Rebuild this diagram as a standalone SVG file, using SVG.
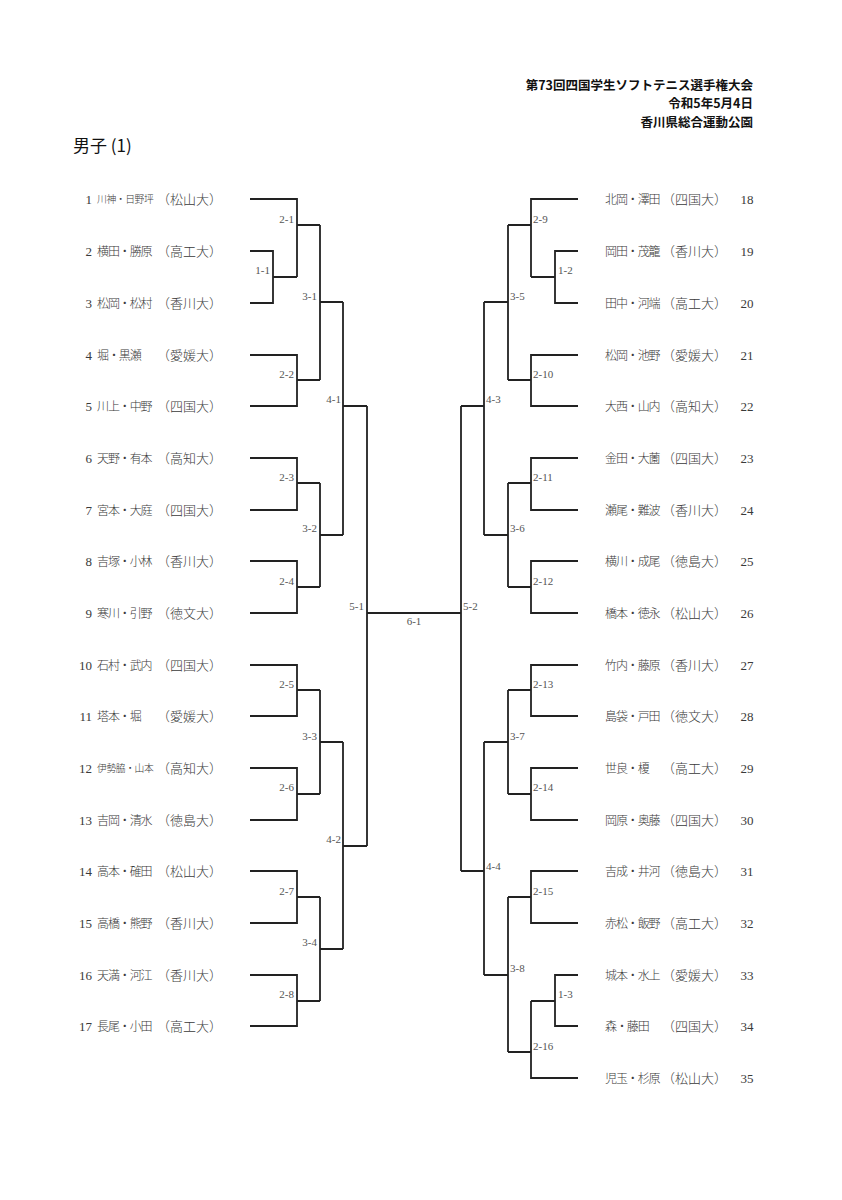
<svg xmlns="http://www.w3.org/2000/svg" width="842" height="1200" viewBox="0 0 842 1200">
<style>
.hd{font-family:"Noto Sans CJK JP","Liberation Sans",sans-serif;font-weight:bold;font-size:12.5px;fill:#111;text-anchor:end}
.ttl{font-family:"Noto Sans CJK JP","Liberation Sans",sans-serif;font-size:17px;fill:#111}
.nm{font-family:"Noto Sans CJK JP",sans-serif;font-size:12px;fill:#3a3a3a;font-weight:300;letter-spacing:-1.1px}
.af{font-family:"Noto Sans CJK JP",sans-serif;font-size:13px;fill:#3a3a3a;font-weight:300}
.sm{font-size:9.8px;letter-spacing:-0.4px}
.no{font-family:"Liberation Serif",serif;font-size:13px;fill:#3a3a3a}
.ne{text-anchor:end}
.nc{text-anchor:middle}
.ln{fill:none;stroke:#222;stroke-width:1.8}
.lb{font-family:"Liberation Serif",serif;font-size:11px;fill:#555}
.le{text-anchor:end}
</style>
<rect width="842" height="1200" fill="#fff"/>
<g id="header">
<text class="hd" x="753" y="90">第73回四国学生ソフトテニス選手権大会</text>
<text class="hd" x="753" y="108">令和5年5月4日</text>
<text class="hd" x="753" y="127">香川県総合運動公園</text>
<text class="ttl" x="73" y="152">男子 (1)</text>
</g>
<g id="connectors">
<path class="ln" d="M250 199H297V277M250 251H273V303H250M273 277H297M297 225H320"/>
<path class="ln" d="M250 355H297V406H250M297 380H320M320 225V380M320 302H343"/>
<path class="ln" d="M250 458H297V510H250M297 483H320M250 561H297V613H250M297 587H320M320 483V587M320 535H343"/>
<path class="ln" d="M343 302V535M343 406H367"/>
<path class="ln" d="M250 665H297V716H250M297 690H320M250 768H297V820H250M297 794H320M320 690V794M320 742H343"/>
<path class="ln" d="M250 871H297V923H250M297 897H320M250 975H297V1026H250M297 1001H320M320 897V1001M320 949H343"/>
<path class="ln" d="M343 742V949M343 846H367M367 406V846M367 613H461"/>
<path class="ln" d="M578 199H531V277M578 251H555V303H578M555 277H531M531 225H508"/>
<path class="ln" d="M578 355H531V406H578M531 380H508M508 225V380M508 302H484"/>
<path class="ln" d="M578 458H531V510H578M531 483H508M578 561H531V613H578M531 587H508M508 483V587M508 535H484"/>
<path class="ln" d="M484 302V535M484 406H461"/>
<path class="ln" d="M578 665H531V716H578M531 690H508M578 768H531V820H578M531 794H508M508 690V794M508 742H484"/>
<path class="ln" d="M578 871H531V923H578M531 897H508M578 975H555V1026H578M555 1001H531M578 1078H531V1001M531 1052H508M508 897V1052M508 975H484"/>
<path class="ln" d="M484 742V975M484 871H461M461 406V871"/>
</g>
<g id="match-labels">
<text class="lb le" x="270" y="274">1-1</text>
<text class="lb le" x="294" y="223">2-1</text>
<text class="lb le" x="294" y="378">2-2</text>
<text class="lb le" x="294" y="481">2-3</text>
<text class="lb le" x="294" y="585">2-4</text>
<text class="lb le" x="294" y="688">2-5</text>
<text class="lb le" x="294" y="791">2-6</text>
<text class="lb le" x="294" y="895">2-7</text>
<text class="lb le" x="294" y="998">2-8</text>
<text class="lb le" x="317" y="300">3-1</text>
<text class="lb le" x="317" y="532">3-2</text>
<text class="lb le" x="317" y="740">3-3</text>
<text class="lb le" x="317" y="946">3-4</text>
<text class="lb le" x="341" y="403">4-1</text>
<text class="lb le" x="341" y="843">4-2</text>
<text class="lb le" x="364" y="610">5-1</text>
<text class="lb nc" x="414" y="625">6-1</text>
<text class="lb" x="463" y="610">5-2</text>
<text class="lb" x="486" y="403">4-3</text>
<text class="lb" x="486" y="870">4-4</text>
<text class="lb" x="510" y="300">3-5</text>
<text class="lb" x="510" y="532">3-6</text>
<text class="lb" x="510" y="740">3-7</text>
<text class="lb" x="510" y="972">3-8</text>
<text class="lb" x="533" y="223">2-9</text>
<text class="lb" x="533" y="378">2-10</text>
<text class="lb" x="533" y="481">2-11</text>
<text class="lb" x="533" y="585">2-12</text>
<text class="lb" x="533" y="688">2-13</text>
<text class="lb" x="533" y="791">2-14</text>
<text class="lb" x="533" y="895">2-15</text>
<text class="lb" x="533" y="1050">2-16</text>
<text class="lb" x="558" y="274">1-2</text>
<text class="lb" x="558" y="998">1-3</text>
</g>
<g id="p1"><text class="no ne" x="92" y="203.5">1</text><text class="nm sm" x="97" y="202.5">川神・日野坪</text><text class="af" x="157" y="203.5">（松山大）</text></g>
<g id="p2"><text class="no ne" x="92" y="255.5">2</text><text class="nm" x="97" y="255.5">横田・勝原</text><text class="af" x="157" y="255.5">（高工大）</text></g>
<g id="p3"><text class="no ne" x="92" y="307.5">3</text><text class="nm" x="97" y="307.5">松岡・松村</text><text class="af" x="157" y="307.5">（香川大）</text></g>
<g id="p4"><text class="no ne" x="92" y="359.5">4</text><text class="nm" x="97" y="359.5">堀・黒瀬</text><text class="af" x="157" y="359.5">（愛媛大）</text></g>
<g id="p5"><text class="no ne" x="92" y="410.5">5</text><text class="nm" x="97" y="410.5">川上・中野</text><text class="af" x="157" y="410.5">（四国大）</text></g>
<g id="p6"><text class="no ne" x="92" y="462.5">6</text><text class="nm" x="97" y="462.5">天野・有本</text><text class="af" x="157" y="462.5">（高知大）</text></g>
<g id="p7"><text class="no ne" x="92" y="514.5">7</text><text class="nm" x="97" y="514.5">宮本・大庭</text><text class="af" x="157" y="514.5">（四国大）</text></g>
<g id="p8"><text class="no ne" x="92" y="565.5">8</text><text class="nm" x="97" y="565.5">吉塚・小林</text><text class="af" x="157" y="565.5">（香川大）</text></g>
<g id="p9"><text class="no ne" x="92" y="617.5">9</text><text class="nm" x="97" y="617.5">寒川・引野</text><text class="af" x="157" y="617.5">（徳文大）</text></g>
<g id="p10"><text class="no ne" x="92" y="669.5">10</text><text class="nm" x="97" y="669.5">石村・武内</text><text class="af" x="157" y="669.5">（四国大）</text></g>
<g id="p11"><text class="no ne" x="92" y="720.5">11</text><text class="nm" x="97" y="720.5">塔本・堀</text><text class="af" x="157" y="720.5">（愛媛大）</text></g>
<g id="p12"><text class="no ne" x="92" y="772.5">12</text><text class="nm sm" x="97" y="771.5">伊勢脇・山本</text><text class="af" x="157" y="772.5">（高知大）</text></g>
<g id="p13"><text class="no ne" x="92" y="824.5">13</text><text class="nm" x="97" y="824.5">吉岡・清水</text><text class="af" x="157" y="824.5">（徳島大）</text></g>
<g id="p14"><text class="no ne" x="92" y="875.5">14</text><text class="nm" x="97" y="875.5">高本・確田</text><text class="af" x="157" y="875.5">（松山大）</text></g>
<g id="p15"><text class="no ne" x="92" y="927.5">15</text><text class="nm" x="97" y="927.5">高橋・熊野</text><text class="af" x="157" y="927.5">（香川大）</text></g>
<g id="p16"><text class="no ne" x="92" y="979.5">16</text><text class="nm" x="97" y="979.5">天満・河江</text><text class="af" x="157" y="979.5">（香川大）</text></g>
<g id="p17"><text class="no ne" x="92" y="1030.5">17</text><text class="nm" x="97" y="1030.5">長尾・小田</text><text class="af" x="157" y="1030.5">（高工大）</text></g>
<g id="p18"><text class="nm" x="605" y="203.5">北岡・澤田</text><text class="af" x="662" y="203.5">（四国大）</text><text class="no nc" x="747" y="203.5">18</text></g>
<g id="p19"><text class="nm" x="605" y="255.5">岡田・茂籠</text><text class="af" x="662" y="255.5">（香川大）</text><text class="no nc" x="747" y="255.5">19</text></g>
<g id="p20"><text class="nm" x="605" y="307.5">田中・河端</text><text class="af" x="662" y="307.5">（高工大）</text><text class="no nc" x="747" y="307.5">20</text></g>
<g id="p21"><text class="nm" x="605" y="359.5">松岡・池野</text><text class="af" x="662" y="359.5">（愛媛大）</text><text class="no nc" x="747" y="359.5">21</text></g>
<g id="p22"><text class="nm" x="605" y="410.5">大西・山内</text><text class="af" x="662" y="410.5">（高知大）</text><text class="no nc" x="747" y="410.5">22</text></g>
<g id="p23"><text class="nm" x="605" y="462.5">金田・大薗</text><text class="af" x="662" y="462.5">（四国大）</text><text class="no nc" x="747" y="462.5">23</text></g>
<g id="p24"><text class="nm" x="605" y="514.5">瀬尾・難波</text><text class="af" x="662" y="514.5">（香川大）</text><text class="no nc" x="747" y="514.5">24</text></g>
<g id="p25"><text class="nm" x="605" y="565.5">横川・成尾</text><text class="af" x="662" y="565.5">（徳島大）</text><text class="no nc" x="747" y="565.5">25</text></g>
<g id="p26"><text class="nm" x="605" y="617.5">橋本・徳永</text><text class="af" x="662" y="617.5">（松山大）</text><text class="no nc" x="747" y="617.5">26</text></g>
<g id="p27"><text class="nm" x="605" y="669.5">竹内・藤原</text><text class="af" x="662" y="669.5">（香川大）</text><text class="no nc" x="747" y="669.5">27</text></g>
<g id="p28"><text class="nm" x="605" y="720.5">島袋・戸田</text><text class="af" x="662" y="720.5">（徳文大）</text><text class="no nc" x="747" y="720.5">28</text></g>
<g id="p29"><text class="nm" x="605" y="772.5">世良・榎</text><text class="af" x="662" y="772.5">（高工大）</text><text class="no nc" x="747" y="772.5">29</text></g>
<g id="p30"><text class="nm" x="605" y="824.5">岡原・奥藤</text><text class="af" x="662" y="824.5">（四国大）</text><text class="no nc" x="747" y="824.5">30</text></g>
<g id="p31"><text class="nm" x="605" y="875.5">吉成・井河</text><text class="af" x="662" y="875.5">（徳島大）</text><text class="no nc" x="747" y="875.5">31</text></g>
<g id="p32"><text class="nm" x="605" y="927.5">赤松・飯野</text><text class="af" x="662" y="927.5">（高工大）</text><text class="no nc" x="747" y="927.5">32</text></g>
<g id="p33"><text class="nm" x="605" y="979.5">城本・水上</text><text class="af" x="662" y="979.5">（愛媛大）</text><text class="no nc" x="747" y="979.5">33</text></g>
<g id="p34"><text class="nm" x="605" y="1030.5">森・藤田</text><text class="af" x="662" y="1030.5">（四国大）</text><text class="no nc" x="747" y="1030.5">34</text></g>
<g id="p35"><text class="nm" x="605" y="1082.5">児玉・杉原</text><text class="af" x="662" y="1082.5">（松山大）</text><text class="no nc" x="747" y="1082.5">35</text></g>
</svg>
